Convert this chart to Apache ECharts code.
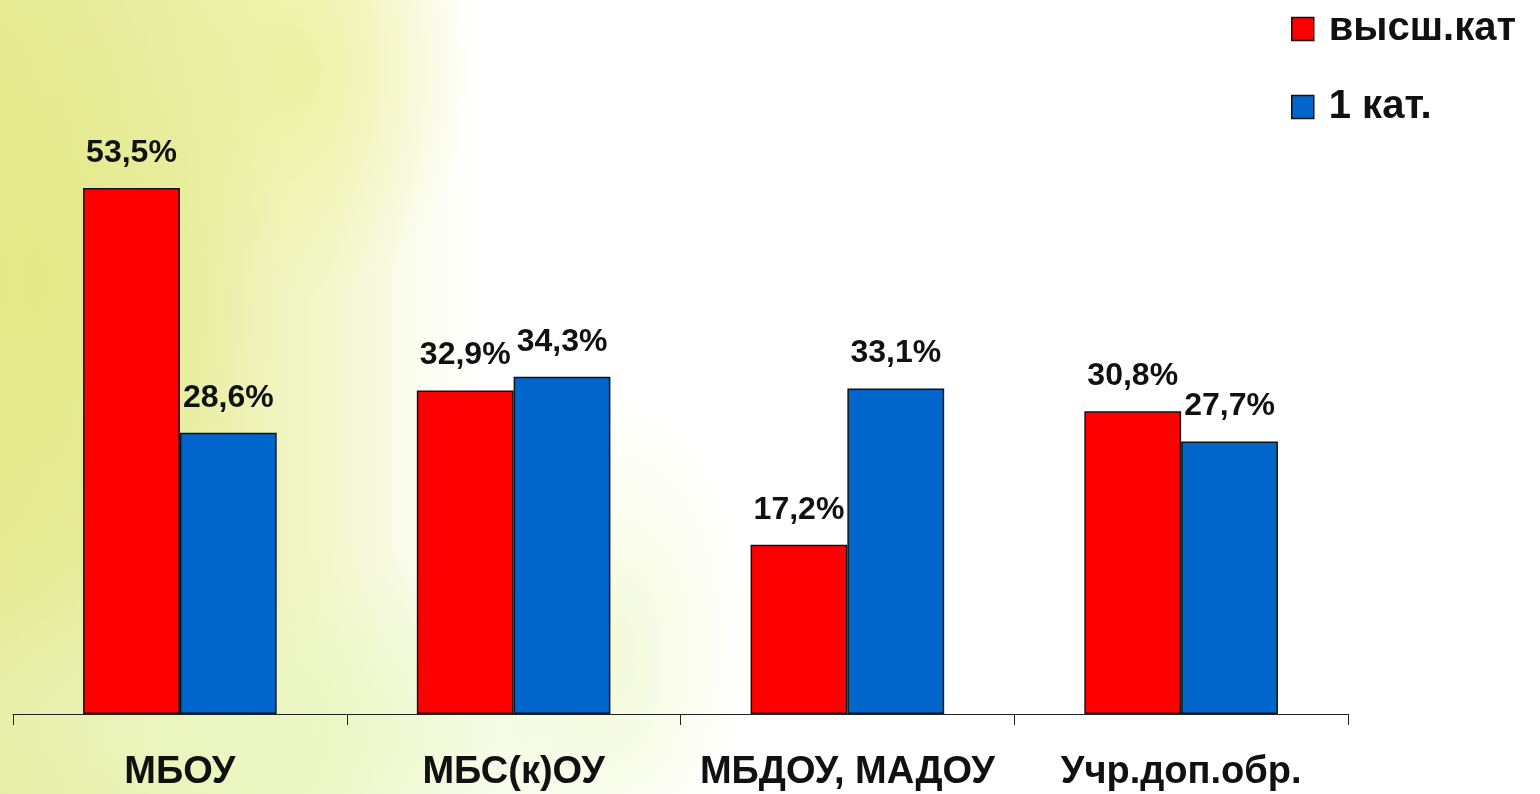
<!DOCTYPE html>
<html>
<head>
<meta charset="utf-8">
<script src="https://cdn.jsdelivr.net/npm/echarts@6/dist/echarts.min.js"></script>
<style>
html,body{margin:0;padding:0;width:1540px;height:794px;overflow:hidden;}
body{background:
 radial-gradient(ellipse 240px 420px at 40px 280px, rgba(226,232,130,0.8), rgba(226,232,130,0) 100%),
 radial-gradient(ellipse 170px 230px at 300px 70px, rgba(236,240,150,0.7), rgba(236,240,150,0) 100%),
 radial-gradient(ellipse 440px 190px at 260px 730px, rgba(234,247,196,0.95), rgba(234,247,196,0) 100%),
 radial-gradient(ellipse 130px 240px at 620px 640px, rgba(240,248,206,0.7), rgba(240,248,206,0) 100%),
 linear-gradient(90deg, #e6ea98 0px, #ecf0ae 200px, #f3f7cc 330px, #fbfdf0 420px, #ffffff 480px, #ffffff 1540px);}
#chart{width:1540px;height:794px;}
</style>
</head>
<body>
<div id="chart"></div>
<script>
var categories = ['МБОУ', 'МБС(к)ОУ', 'МБДОУ, МАДОУ', 'Учр.доп.обр.'];
var seriesNames = ['высш.кат', '1 кат.'];
var highCat = [53.5, 32.9, 17.2, 30.8];
var firstCat = [28.6, 34.3, 33.1, 27.7];

var chart = echarts.init(document.getElementById('chart'), null, {renderer: 'canvas'});
var fmt = function (p) { return String(p.value).replace('.', ',') + '%'; };
var labelStyle = {
  show: true, position: 'top', distance: 19, formatter: fmt,
  color: '#111', fontFamily: 'Liberation Sans, Arial, sans-serif',
  fontWeight: 'bold', fontSize: 32
};
chart.setOption({
  backgroundColor: 'transparent',
  animation: false,
  grid: {left: 13, right: 192, top: 124, bottom: 80, containLabel: false},
  legend: {
    orient: 'vertical', left: 1286, top: 4,
    itemWidth: 22, itemHeight: 23, itemGap: 38,
    icon: 'rect',
    itemStyle: {borderColor: '#111', borderWidth: 1.5},
    textStyle: {color: '#111', fontFamily: 'Liberation Sans, Arial, sans-serif', fontWeight: 'bold', fontSize: 40, padding: [0, 0, 0, 10]},
    data: seriesNames
  },
  xAxis: {
    type: 'category', data: categories, boundaryGap: true,
    axisLine: {lineStyle: {color: '#222', width: 1}},
    axisTick: {show: true, length: 11, lineStyle: {color: '#222'}},
    axisLabel: {margin: 40, color: '#111', fontFamily: 'Liberation Sans, Arial, sans-serif', fontWeight: 'bold', fontSize: 38, interval: 0}
  },
  yAxis: {type: 'value', min: 0, max: 60, show: false, splitLine: {show: false}},
  series: [
    {name: seriesNames[0], type: 'bar', data: highCat, barGap: '0%', barCategoryGap: '42%',
     itemStyle: {color: '#ff0000', borderColor: '#111', borderWidth: 1.5}, label: labelStyle},
    {name: seriesNames[1], type: 'bar', data: firstCat, barGap: '0%', barCategoryGap: '42%',
     itemStyle: {color: '#0066cc', borderColor: '#111', borderWidth: 1.5}, label: labelStyle}
  ]
});
</script>
</body>
</html>
